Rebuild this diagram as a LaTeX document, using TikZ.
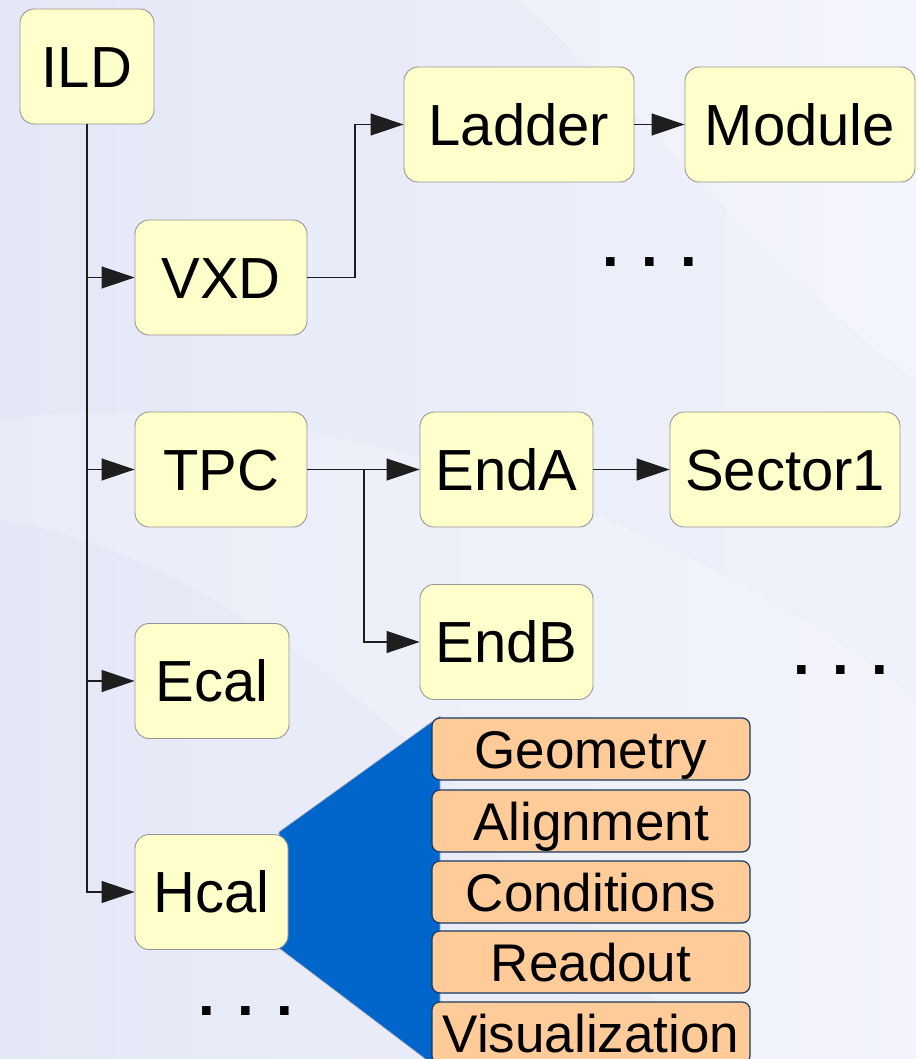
\documentclass[tikz,border=0pt]{standalone}
\usepackage{fontspec}
\setmainfont{Liberation Sans}
\usetikzlibrary{arrows.meta}
\definecolor{bgleft}{RGB}{228,232,246}
\definecolor{bgright}{RGB}{240,242,251}
\definecolor{boxfill}{RGB}{255,255,204}
\definecolor{boxline}{RGB}{150,150,150}
\definecolor{tabfill}{RGB}{255,204,153}
\definecolor{tabline}{RGB}{25,55,100}
\definecolor{fanblue}{RGB}{0,102,204}
\definecolor{wire}{RGB}{30,30,30}
\tikzset{
  part/.style={draw=boxline, line width=0.9pt, fill=boxfill, rounded corners=14pt,
    inner sep=0pt, minimum height=115pt, text height=41.5pt, text depth=0pt,
    font=\fontsize{58}{58}\selectfont},
  facet/.style={draw=tabline, line width=1.2pt, fill=tabfill, rounded corners=8pt,
    inner sep=0pt, minimum width=318pt, minimum height=62pt,
    text height=38pt, text depth=0pt,
    font=\fontsize{53}{53}\selectfont},
  link/.style={draw=wire, line width=1.2pt, -{Triangle[length=33pt,width=22pt]}},
  more/.style={font=\fontsize{60}{60}\selectfont\bfseries, inner sep=0pt}
}
\begin{document}
\begin{tikzpicture}[x=1pt,y=-1pt]
  % background
  \shade[left color=bgleft, right color=bgright] (0,0) rectangle (916,1059);
  \fill[white, opacity=0.25] (520,0) -- (916,0) -- (916,380) .. controls (800,300) and (650,120) .. (520,0) -- cycle;
  \fill[white, opacity=0.2] (0,420) .. controls (300,380) and (700,520) .. (916,700) -- (916,1059) -- (700,1059) .. controls (500,800) and (250,560) .. (0,520) -- cycle;
  \useasboundingbox (0,0) rectangle (916,1059);

  % fan from Hcal to its facets
  \filldraw[fill=fanblue, draw=gray!60, line width=0.6pt]
    (279,832) -- (440,716) -- (440,1070) -- (279,948) -- cycle;

  % detector tree
  \node[part, minimum width=134pt] (ILD)    at (87,66.5)   {ILD};
  \node[part, minimum width=172pt] (VXD)    at (221,277.5) {VXD};
  \node[part, minimum width=230pt] (Ladder) at (519,124.5) {Ladder};
  \node[part, minimum width=230pt] (Module) at (800,124.5) {Module};
  \node[part, minimum width=172pt] (TPC)    at (221,469.5) {TPC};
  \node[part, minimum width=173pt] (EndA)   at (506.5,469.5) {EndA};
  \node[part, minimum width=230pt] (Sector) at (785,469.5) {Sector1};
  \node[part, minimum width=173pt] (EndB)   at (506.5,642) {EndB};
  \node[part, minimum width=154pt] (Ecal)   at (212,681)   {Ecal};
  \node[part, minimum width=153pt] (Hcal)   at (211.5,892) {Hcal};

  % facets of a subdetector
  \node[facet] (Geo)  at (591,749)  {Geometry};
  \node[facet] (Ali)  at (591,821)  {Alignment};
  \node[facet] (Cond) at (591,892)  {Conditions};
  \node[facet] (Read) at (591,962)  {Readout};
  \node[facet] (Vis)  at (591,1033) {Visualization};

  % ellipses
  \node[more] (dotsA) at (650,262)  {. . .};
  \node[more] (dotsB) at (841,670)  {. . .};
  \node[more] (dotsC) at (246,1011) {. . .};

  % connectors
  \coordinate (vxdturn) at (355,0);
  \coordinate (tpcturn) at (364,0);
  \draw[link] (ILD.south) |- (VXD.west);
  \draw[link] (ILD.south) |- (TPC.west);
  \draw[link] (ILD.south) |- (Ecal.west);
  \draw[link] (ILD.south) |- (Hcal.west);
  \draw[link] (VXD.east) -- (VXD.east -| vxdturn) |- (Ladder.west);
  \draw[link] (Ladder.east) -- (Module.west);
  \draw[link] (TPC.east) -- (EndA.west);
  \draw[link] (TPC.east -| tpcturn) |- (EndB.west);
  \draw[link] (EndA.east) -- (Sector.west);
\end{tikzpicture}
\end{document}
